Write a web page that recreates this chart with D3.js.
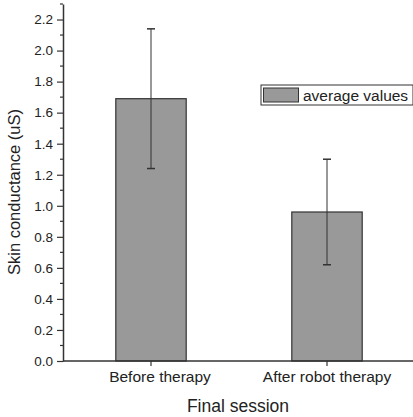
<!DOCTYPE html>
<html>
<head>
<meta charset="utf-8">
<script src="https://cdn.jsdelivr.net/npm/d3@7"></script>
<style>
  body { margin: 0; background: #fff; }
  svg { font-family: "Liberation Sans", Arial, sans-serif; }
</style>
</head>
<body>
<svg id="chart" width="413" height="417"></svg>
<script>
// data
var categories = ["Before therapy", "After robot therapy"];
var means = [1.69, 0.96];
var errors = [0.45, 0.34];
var yTicks = [0.0, 0.2, 0.4, 0.6, 0.8, 1.0, 1.2, 1.4, 1.6, 1.8, 2.0, 2.2];
var legendLabel = "average values";

var svg = d3.select("#chart");
var plotLeft = 63, plotRight = 413, plotTop = 4, plotBottom = 361;

var x = d3.scaleBand()
    .domain(categories)
    .range([63, 415])
    .paddingInner(0.6)
    .paddingOuter(0.3);

var y = d3.scaleLinear().domain([0, 2.3]).range([plotBottom, plotTop]);

var axisColor = "#333";

// bars
svg.selectAll("rect.bar")
    .data(categories)
    .enter().append("rect")
    .attr("class", "bar")
    .attr("x", function(d) { return x(d); })
    .attr("y", function(d, i) { return y(means[i]); })
    .attr("width", x.bandwidth())
    .attr("height", function(d, i) { return plotBottom - y(means[i]); })
    .attr("fill", "#999")
    .attr("stroke", "#333")
    .attr("stroke-width", 1.2);

// error bars
var eb = svg.selectAll("g.err")
    .data(categories)
    .enter().append("g")
    .attr("class", "err");
eb.append("line")
    .attr("x1", function(d) { return x(d) + x.bandwidth() / 2; })
    .attr("x2", function(d) { return x(d) + x.bandwidth() / 2; })
    .attr("y1", function(d, i) { return y(means[i] + errors[i]); })
    .attr("y2", function(d, i) { return y(means[i] - errors[i]); })
    .attr("stroke", "#333").attr("stroke-width", 1);
[1, -1].forEach(function(s) {
  eb.append("line")
    .attr("x1", function(d) { return x(d) + x.bandwidth() / 2 - 4; })
    .attr("x2", function(d) { return x(d) + x.bandwidth() / 2 + 4; })
    .attr("y1", function(d, i) { return y(means[i] + s * errors[i]); })
    .attr("y2", function(d, i) { return y(means[i] + s * errors[i]); })
    .attr("stroke", "#333").attr("stroke-width", 1.5);
});

// y axis
var yAxis = svg.append("g")
    .attr("transform", "translate(" + plotLeft + ",0)")
    .call(d3.axisLeft(y).tickValues(yTicks).tickFormat(d3.format(".1f")).tickSize(6).tickSizeOuter(0));
// minor ticks
svg.append("g")
    .attr("transform", "translate(" + plotLeft + ",0)")
    .selectAll("line")
    .data(yTicks.map(function(t) { return t + 0.1; }))
    .enter().append("line")
    .attr("x1", -3).attr("x2", 0)
    .attr("y1", function(d) { return y(d); })
    .attr("y2", function(d) { return y(d); })
    .attr("stroke", axisColor).attr("stroke-width", 1.2);

yAxis.select(".domain").attr("stroke", axisColor).attr("stroke-width", 1.5);
yAxis.selectAll(".tick line").attr("stroke", axisColor).attr("stroke-width", 1.2);
yAxis.selectAll(".tick text").attr("font-size", 13.5).attr("fill", "#222").attr("x", -10);

// x axis
var xAxis = svg.append("g")
    .attr("transform", "translate(0," + plotBottom + ")")
    .call(d3.axisBottom(x).tickSize(5).tickSizeOuter(0));
xAxis.select(".domain").attr("d", "M" + plotLeft + ",0H" + plotRight)
    .attr("stroke", axisColor).attr("stroke-width", 1.5);
xAxis.selectAll(".tick line").attr("stroke", axisColor).attr("stroke-width", 1.2);
xAxis.selectAll(".tick text").attr("font-size", 15.5).attr("fill", "#222").attr("y", 10)
    .attr("dx", function(d, i) { return i === 0 ? 9 : 0; });

// axis titles
svg.append("text")
    .attr("transform", "translate(20,192) rotate(-90)")
    .attr("text-anchor", "middle")
    .attr("font-size", 16.5)
    .attr("fill", "#222")
    .text("Skin conductance (uS)");
svg.append("text")
    .attr("x", 238).attr("y", 412)
    .attr("text-anchor", "middle")
    .attr("font-size", 17.5)
    .attr("fill", "#222")
    .text("Final session");

// legend
var lg = svg.append("g").attr("transform", "translate(261,85)");
lg.append("rect").attr("x", 0).attr("y", 0).attr("width", 152).attr("height", 20)
    .attr("fill", "#fff").attr("stroke", "#333").attr("stroke-width", 1);
lg.append("rect").attr("x", 2.5).attr("y", 3).attr("width", 35).attr("height", 14)
    .attr("fill", "#999").attr("stroke", "#333").attr("stroke-width", 1);
lg.append("text").attr("x", 42).attr("y", 15.5).attr("font-size", 15.5).attr("fill", "#222")
    .text(legendLabel);
</script>
</body>
</html>
